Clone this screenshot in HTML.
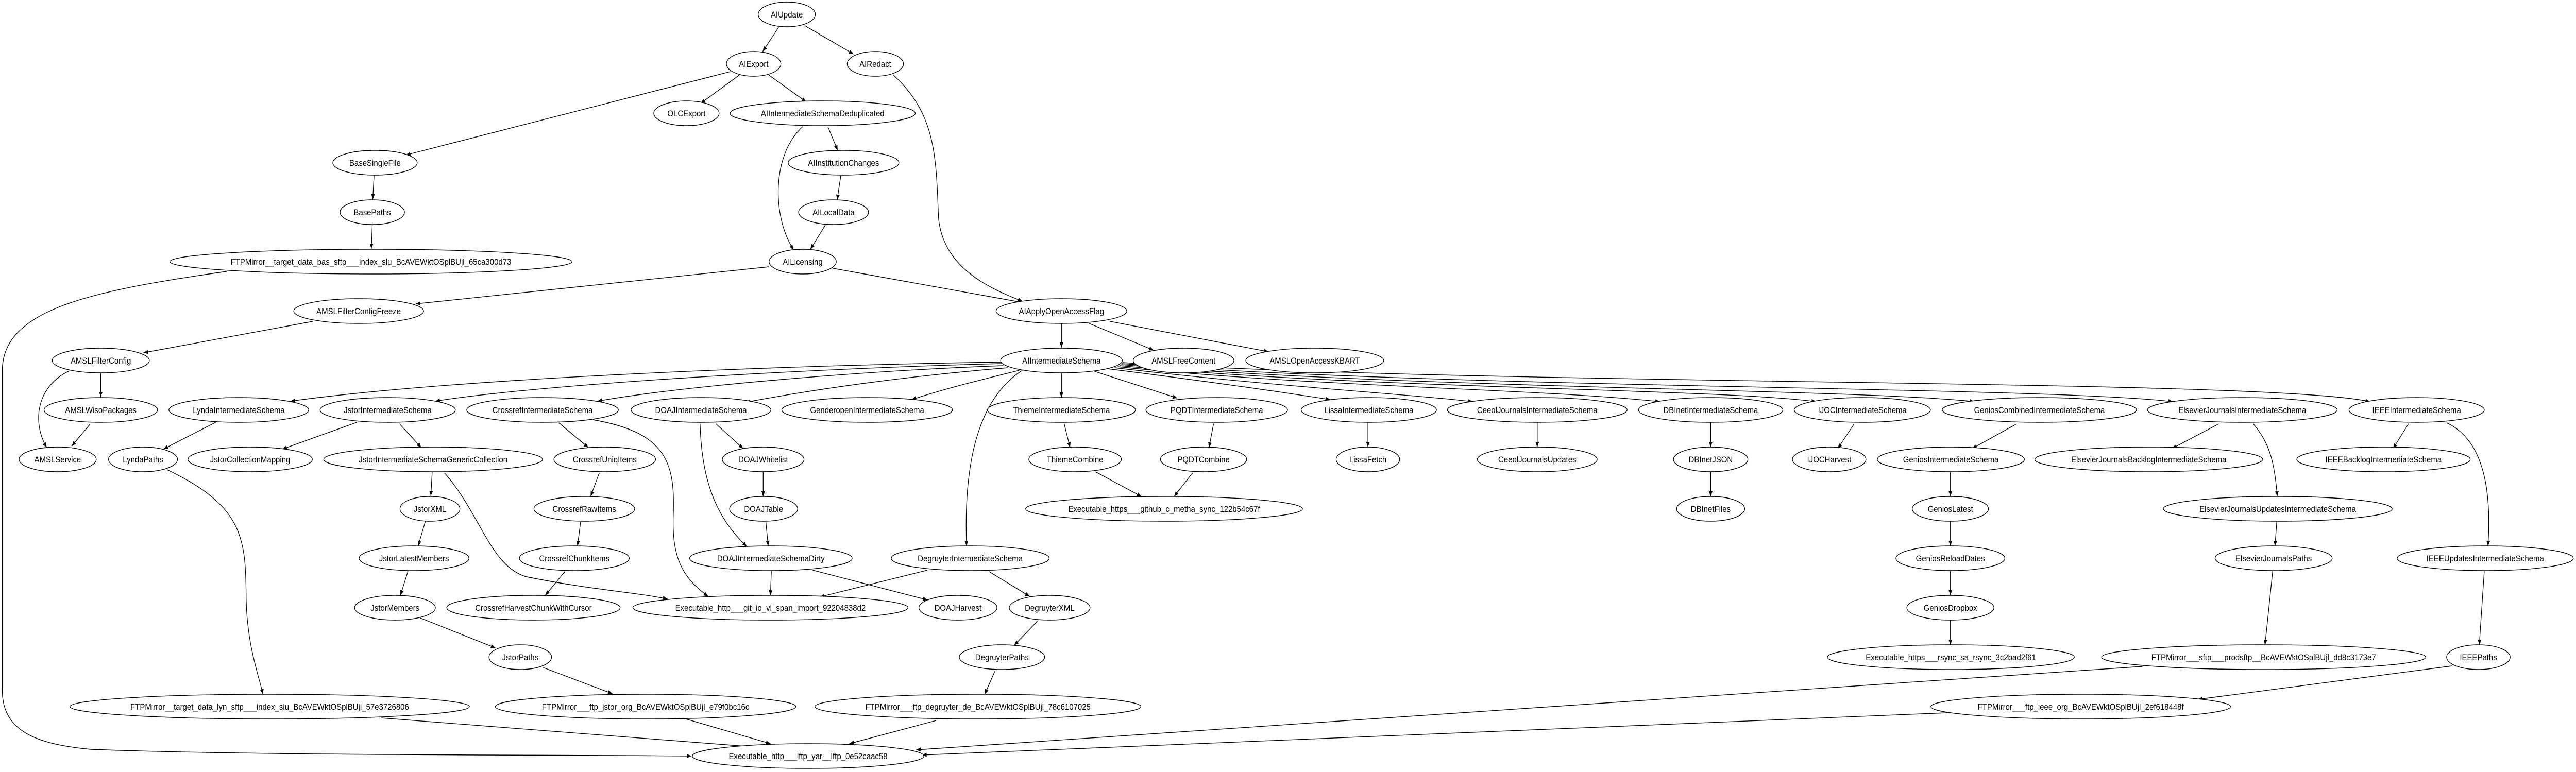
<!DOCTYPE html>
<html><head><meta charset="utf-8"><style>
html,body{margin:0;padding:0;background:#fff;width:100%;height:100%;overflow:hidden;}
svg{display:block;position:fixed;left:0;top:0;width:100vw;height:100vh;}
ellipse{fill:#fff;stroke:#000;stroke-width:1.4;}
path.e{fill:none;stroke:#000;stroke-width:1.4;marker-end:url(#a);}
text{font-family:"Liberation Sans",Arial,sans-serif;font-size:17px;text-anchor:middle;fill:#000;}
</style></head><body>
<svg viewBox="0 0 5674 1499" preserveAspectRatio="none" xmlns="http://www.w3.org/2000/svg" overflow="hidden">
<defs><marker id="a" viewBox="0 0 10 8" refX="10" refY="4" markerWidth="10" markerHeight="8" markerUnits="userSpaceOnUse" orient="auto"><path d="M0,0 L10,4 L0,8 z" fill="#000"/></marker></defs>
<g>
<path class="e" d="M1715,53 L1680,100"/>
<path class="e" d="M1773,50 L1880,105"/>
<path class="e" d="M1609,139 L894,301"/>
<path class="e" d="M1628,146 L1543,201"/>
<path class="e" d="M1694,146 L1776,198"/>
<path class="e" d="M1824,247 L1845,292"/>
<path class="e" d="M1768,246 C1700,300 1700,420 1748,485"/>
<path class="e" d="M1852,341 L1844,388"/>
<path class="e" d="M1818,437 L1785,484"/>
<path class="e" d="M1967,145 C2060,220 2062,300 2067,420 C2075,520 2180,560 2252,585"/>
<path class="e" d="M1835,521 L2256,588"/>
<path class="e" d="M1694,518 L916,590"/>
<path class="e" d="M824,340 L821,387"/>
<path class="e" d="M820,436 L818,483"/>
<path class="e" d="M499,527 C200,565 5,600 5,720 L5,1340 C5,1420 80,1445 200,1455 C600,1468 1200,1465 1523,1468"/>
<path class="e" d="M689,624 L316,685"/>
<path class="e" d="M222,724 L222,771"/>
<path class="e" d="M153,720 C80,750 70,820 103,869"/>
<path class="e" d="M199,823 L158,866"/>
<path class="e" d="M2205,703 C1700,710 1000,735 640,779"/>
<path class="e" d="M2206,706 C1800,715 1200,745 959,779"/>
<path class="e" d="M2210,710 C1900,720 1500,750 1316,779"/>
<path class="e" d="M2220,714 C2000,730 1800,755 1643,781"/>
<path class="e" d="M2245,719 C2150,740 2080,755 2008,776"/>
<path class="e" d="M2252,719 C2180,760 2120,850 2129,1060"/>
<path class="e" d="M2338,724 L2338,772"/>
<path class="e" d="M2411,721 L2593,773"/>
<path class="e" d="M2440,716 C2700,745 2850,765 2930,776"/>
<path class="e" d="M2455,714 C2800,750 3100,765 3244,780"/>
<path class="e" d="M2462,712 C2900,752 3400,755 3656,780"/>
<path class="e" d="M2467,710 C3000,755 3800,755 4000,780"/>
<path class="e" d="M2470,708 C3100,755 4100,755 4349,780"/>
<path class="e" d="M2471,706 C3200,755 4500,750 4786,780"/>
<path class="e" d="M2472,704 C3300,750 5000,735 5220,780"/>
<path class="e" d="M475,820 L360,872"/>
<path class="e" d="M368,912 C530,980 541,1040 542,1150 C542,1250 570,1310 579,1348"/>
<path class="e" d="M840,1394 C1200,1420 1500,1440 1700,1453"/>
<path class="e" d="M786,820 L622,872"/>
<path class="e" d="M880,823 L928,869"/>
<path class="e" d="M952,916 L949,963"/>
<path class="e" d="M979,918 C1060,1000 1080,1100 1160,1120 C1300,1145 1400,1150 1470,1163"/>
<path class="e" d="M937,1012 L921,1060"/>
<path class="e" d="M899,1108 L882,1156"/>
<path class="e" d="M926,1200 L1091,1258"/>
<path class="e" d="M1196,1296 L1349,1347"/>
<path class="e" d="M1507,1395 L1697,1444"/>
<path class="e" d="M1231,821 L1296,869"/>
<path class="e" d="M1306,815 C1470,840 1487,900 1483,1000 C1480,1080 1500,1120 1560,1158"/>
<path class="e" d="M1320,918 L1301,964"/>
<path class="e" d="M1279,1013 L1272,1060"/>
<path class="e" d="M1244,1110 L1201,1156"/>
<path class="e" d="M1577,823 L1637,871"/>
<path class="e" d="M1542,823 C1545,920 1570,1000 1645,1061"/>
<path class="e" d="M1681,916 L1681,964"/>
<path class="e" d="M1687,1014 L1692,1060"/>
<path class="e" d="M1699,1108 L1697,1156"/>
<path class="e" d="M1790,1107 L2043,1165"/>
<path class="e" d="M2043,1107 L1806,1159"/>
<path class="e" d="M2179,1110 L2268,1158"/>
<path class="e" d="M2285,1206 L2234,1253"/>
<path class="e" d="M2192,1302 L2169,1348"/>
<path class="e" d="M2062,1399 L1871,1444"/>
<path class="e" d="M2344,823 L2357,869"/>
<path class="e" d="M2413,916 L2514,964"/>
<path class="e" d="M2673,823 L2663,869"/>
<path class="e" d="M2627,918 L2586,964"/>
<path class="e" d="M3013,820 L3013,868"/>
<path class="e" d="M3386,820 L3386,868"/>
<path class="e" d="M3768,820 L3768,868"/>
<path class="e" d="M3768,916 L3768,964"/>
<path class="e" d="M4084,823 L4048,871"/>
<path class="e" d="M4442,823 L4344,871"/>
<path class="e" d="M4296,916 L4296,964"/>
<path class="e" d="M4296,1012 L4296,1060"/>
<path class="e" d="M4296,1108 L4296,1156"/>
<path class="e" d="M4296,1204 L4296,1252"/>
<path class="e" d="M4887,823 L4784,871"/>
<path class="e" d="M4963,823 C5000,860 5010,900 5016,964"/>
<path class="e" d="M5015,1012 L5011,1060"/>
<path class="e" d="M5006,1108 L4989,1252"/>
<path class="e" d="M4719,1294 L2018,1456"/>
<path class="e" d="M5305,823 L5271,871"/>
<path class="e" d="M5389,821 C5460,850 5490,930 5480,1060"/>
<path class="e" d="M5472,1108 L5461,1252"/>
<path class="e" d="M5401,1293 L4841,1358"/>
<path class="e" d="M4289,1384 L2031,1466"/>
<path class="e" d="M2338,628 L2338,675"/>
<path class="e" d="M2399,628 L2541,680"/>
<path class="e" d="M2445,624 L2794,683"/>
</g>
<g>
<ellipse cx="1733" cy="28" rx="63" ry="24"/><text x="1733" y="34">AIUpdate</text>
<ellipse cx="1660" cy="124" rx="60" ry="24"/><text x="1660" y="130">AIExport</text>
<ellipse cx="1928" cy="124" rx="62" ry="24"/><text x="1928" y="130">AIRedact</text>
<ellipse cx="1512" cy="220" rx="72" ry="24"/><text x="1512" y="226">OLCExport</text>
<ellipse cx="1812" cy="220" rx="204" ry="24"/><text x="1812" y="226">AIIntermediateSchemaDeduplicated</text>
<ellipse cx="1858" cy="316" rx="122" ry="24"/><text x="1858" y="322">AIInstitutionChanges</text>
<ellipse cx="1836" cy="412" rx="77" ry="24"/><text x="1836" y="418">AILocalData</text>
<ellipse cx="1768" cy="508" rx="74" ry="24"/><text x="1768" y="514">AILicensing</text>
<ellipse cx="826" cy="316" rx="93" ry="24"/><text x="826" y="322">BaseSingleFile</text>
<ellipse cx="820" cy="412" rx="71" ry="24"/><text x="820" y="418">BasePaths</text>
<ellipse cx="817" cy="508" rx="443" ry="24"/><text x="817" y="514">FTPMirror__target_data_bas_sftp___index_slu_BcAVEWktOSplBUjl_65ca300d73</text>
<ellipse cx="790" cy="604" rx="143" ry="24"/><text x="790" y="610">AMSLFilterConfigFreeze</text>
<ellipse cx="222" cy="700" rx="107" ry="24"/><text x="222" y="706">AMSLFilterConfig</text>
<ellipse cx="222" cy="796" rx="125" ry="24"/><text x="222" y="802">AMSLWisoPackages</text>
<ellipse cx="127" cy="892" rx="85" ry="24"/><text x="127" y="898">AMSLService</text>
<ellipse cx="2338" cy="604" rx="144" ry="24"/><text x="2338" y="610">AIApplyOpenAccessFlag</text>
<ellipse cx="2338" cy="700" rx="134" ry="24"/><text x="2338" y="706">AIIntermediateSchema</text>
<ellipse cx="2607" cy="700" rx="111" ry="24"/><text x="2607" y="706">AMSLFreeContent</text>
<ellipse cx="2896" cy="700" rx="152" ry="24"/><text x="2896" y="706">AMSLOpenAccessKBART</text>
<ellipse cx="526" cy="796" rx="154" ry="24"/><text x="526" y="802">LyndaIntermediateSchema</text>
<ellipse cx="854" cy="796" rx="149" ry="24"/><text x="854" y="802">JstorIntermediateSchema</text>
<ellipse cx="1195" cy="796" rx="167" ry="24"/><text x="1195" y="802">CrossrefIntermediateSchema</text>
<ellipse cx="1544" cy="796" rx="154" ry="24"/><text x="1544" y="802">DOAJIntermediateSchema</text>
<ellipse cx="1910" cy="796" rx="188" ry="24"/><text x="1910" y="802">GenderopenIntermediateSchema</text>
<ellipse cx="2338" cy="796" rx="163" ry="24"/><text x="2338" y="802">ThiemeIntermediateSchema</text>
<ellipse cx="2680" cy="796" rx="156" ry="24"/><text x="2680" y="802">PQDTIntermediateSchema</text>
<ellipse cx="3015" cy="796" rx="149" ry="24"/><text x="3015" y="802">LissaIntermediateSchema</text>
<ellipse cx="3386" cy="796" rx="198" ry="24"/><text x="3386" y="802">CeeolJournalsIntermediateSchema</text>
<ellipse cx="3768" cy="796" rx="159" ry="24"/><text x="3768" y="802">DBInetIntermediateSchema</text>
<ellipse cx="4102" cy="796" rx="150" ry="24"/><text x="4102" y="802">IJOCIntermediateSchema</text>
<ellipse cx="4492" cy="796" rx="214" ry="24"/><text x="4492" y="802">GeniosCombinedIntermediateSchema</text>
<ellipse cx="4939" cy="796" rx="209" ry="24"/><text x="4939" y="802">ElsevierJournalsIntermediateSchema</text>
<ellipse cx="5323" cy="796" rx="149" ry="24"/><text x="5323" y="802">IEEEIntermediateSchema</text>
<ellipse cx="315" cy="892" rx="76" ry="24"/><text x="315" y="898">LyndaPaths</text>
<ellipse cx="551" cy="892" rx="137" ry="24"/><text x="551" y="898">JstorCollectionMapping</text>
<ellipse cx="954" cy="892" rx="241" ry="24"/><text x="954" y="898">JstorIntermediateSchemaGenericCollection</text>
<ellipse cx="1332" cy="892" rx="112" ry="24"/><text x="1332" y="898">CrossrefUniqItems</text>
<ellipse cx="1681" cy="892" rx="90" ry="24"/><text x="1681" y="898">DOAJWhitelist</text>
<ellipse cx="2368" cy="892" rx="102" ry="24"/><text x="2368" y="898">ThiemeCombine</text>
<ellipse cx="2651" cy="892" rx="95" ry="24"/><text x="2651" y="898">PQDTCombine</text>
<ellipse cx="3013" cy="892" rx="70" ry="24"/><text x="3013" y="898">LissaFetch</text>
<ellipse cx="3386" cy="892" rx="132" ry="24"/><text x="3386" y="898">CeeolJournalsUpdates</text>
<ellipse cx="3768" cy="892" rx="82" ry="24"/><text x="3768" y="898">DBInetJSON</text>
<ellipse cx="4029" cy="892" rx="81" ry="24"/><text x="4029" y="898">IJOCHarvest</text>
<ellipse cx="4297" cy="892" rx="162" ry="24"/><text x="4297" y="898">GeniosIntermediateSchema</text>
<ellipse cx="4733" cy="892" rx="251" ry="24"/><text x="4733" y="898">ElsevierJournalsBacklogIntermediateSchema</text>
<ellipse cx="5250" cy="892" rx="191" ry="24"/><text x="5250" y="898">IEEEBacklogIntermediateSchema</text>
<ellipse cx="947" cy="988" rx="66" ry="24"/><text x="947" y="994">JstorXML</text>
<ellipse cx="1287" cy="988" rx="111" ry="24"/><text x="1287" y="994">CrossrefRawItems</text>
<ellipse cx="1682" cy="988" rx="75" ry="24"/><text x="1682" y="994">DOAJTable</text>
<ellipse cx="2564" cy="988" rx="305" ry="24"/><text x="2564" y="994">Executable_https___github_c_metha_sync_122b54c67f</text>
<ellipse cx="3768" cy="988" rx="75" ry="24"/><text x="3768" y="994">DBInetFiles</text>
<ellipse cx="4296" cy="988" rx="84" ry="24"/><text x="4296" y="994">GeniosLatest</text>
<ellipse cx="5017" cy="988" rx="252" ry="24"/><text x="5017" y="994">ElsevierJournalsUpdatesIntermediateSchema</text>
<ellipse cx="912" cy="1084" rx="121" ry="24"/><text x="912" y="1090">JstorLatestMembers</text>
<ellipse cx="1265" cy="1084" rx="121" ry="24"/><text x="1265" y="1090">CrossrefChunkItems</text>
<ellipse cx="1698" cy="1084" rx="179" ry="24"/><text x="1698" y="1090">DOAJIntermediateSchemaDirty</text>
<ellipse cx="2137" cy="1084" rx="174" ry="24"/><text x="2137" y="1090">DegruyterIntermediateSchema</text>
<ellipse cx="4296" cy="1084" rx="120" ry="24"/><text x="4296" y="1090">GeniosReloadDates</text>
<ellipse cx="5008" cy="1084" rx="129" ry="24"/><text x="5008" y="1090">ElsevierJournalsPaths</text>
<ellipse cx="5474" cy="1084" rx="194" ry="24"/><text x="5474" y="1090">IEEEUpdatesIntermediateSchema</text>
<ellipse cx="870" cy="1180" rx="89" ry="24"/><text x="870" y="1186">JstorMembers</text>
<ellipse cx="1175" cy="1180" rx="191" ry="24"/><text x="1175" y="1186">CrossrefHarvestChunkWithCursor</text>
<ellipse cx="1697" cy="1180" rx="303" ry="24"/><text x="1697" y="1186">Executable_http___git_io_vl_span_import_92204838d2</text>
<ellipse cx="2110" cy="1180" rx="86" ry="24"/><text x="2110" y="1186">DOAJHarvest</text>
<ellipse cx="2312" cy="1180" rx="89" ry="24"/><text x="2312" y="1186">DegruyterXML</text>
<ellipse cx="4296" cy="1180" rx="96" ry="24"/><text x="4296" y="1186">GeniosDropbox</text>
<ellipse cx="1146" cy="1276" rx="69" ry="24"/><text x="1146" y="1282">JstorPaths</text>
<ellipse cx="2207" cy="1276" rx="94" ry="24"/><text x="2207" y="1282">DegruyterPaths</text>
<ellipse cx="4297" cy="1276" rx="272" ry="24"/><text x="4297" y="1282">Executable_https___rsync_sa_rsync_3c2bad2f61</text>
<ellipse cx="4986" cy="1276" rx="357" ry="24"/><text x="4986" y="1282">FTPMirror___sftp___prodsftp__BcAVEWktOSplBUjl_dd8c3173e7</text>
<ellipse cx="5459" cy="1276" rx="70" ry="24"/><text x="5459" y="1282">IEEEPaths</text>
<ellipse cx="594" cy="1372" rx="440" ry="24"/><text x="594" y="1378">FTPMirror__target_data_lyn_sftp___index_slu_BcAVEWktOSplBUjl_57e3726806</text>
<ellipse cx="1422" cy="1372" rx="331" ry="24"/><text x="1422" y="1378">FTPMirror___ftp_jstor_org_BcAVEWktOSplBUjl_e79f0bc16c</text>
<ellipse cx="2154" cy="1372" rx="359" ry="24"/><text x="2154" y="1378">FTPMirror___ftp_degruyter_de_BcAVEWktOSplBUjl_78c6107025</text>
<ellipse cx="4583" cy="1372" rx="330" ry="24"/><text x="4583" y="1378">FTPMirror___ftp_ieee_org_BcAVEWktOSplBUjl_2ef618448f</text>
<ellipse cx="1780" cy="1468" rx="255" ry="24"/><text x="1780" y="1474">Executable_http___lftp_yar__lftp_0e52caac58</text>
</g>
</svg>
</body></html>
